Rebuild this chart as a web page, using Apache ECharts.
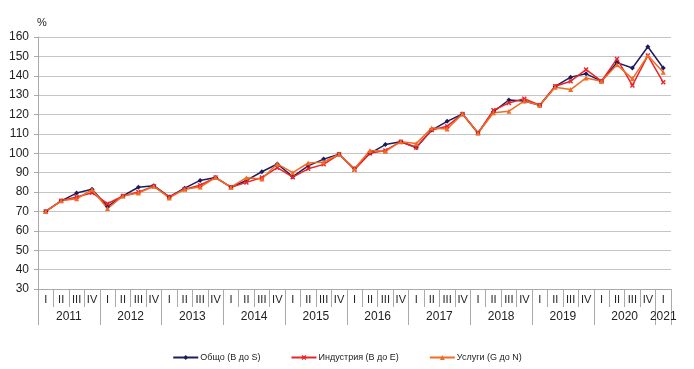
<!DOCTYPE html>
<html>
<head>
<meta charset="utf-8">
<script src="https://cdn.jsdelivr.net/npm/echarts@6/dist/echarts.min.js"></script>
<style>
html,body{margin:0;padding:0;background:#fff;}
#chart{width:694px;height:369px;}
</style>
</head>
<body>
<div id="chart"></div>
<script>
// ---- data ----
const quarterNames = ['I', 'II', 'III', 'IV'];
const years = ['2011','2012','2013','2014','2015','2016','2017','2018','2019','2020','2021'];
const quartersPerYear = [4,4,4,4,4,4,4,4,4,4,1];
const yTicks = {min: 30, max: 160, interval: 10};

const seriesNames = ['Общо (B до S)', 'Индустрия (B до E)', 'Услуги (G до N)'];

const total = [70, 75.5, 79.5, 81.5, 72.5, 78, 82.5, 83.3, 77.5, 82, 86, 87.5, 82.5, 86, 90.5, 94.5, 88, 93.5, 97, 99.5, 92, 100, 104.5, 106, 103, 112, 116.5, 120.3, 110.5, 121.5, 127.5, 127, 124.8, 134.5, 139.3, 141, 137.2, 146.8, 144, 155, 144];
const industry = [70, 75.5, 77.5, 79.7, 74, 78, 80, 83, 77.5, 81.5, 83.5, 87.5, 82.5, 85, 87.5, 92.6, 87.7, 92, 94.3, 99.5, 91.5, 100, 101.5, 106, 103, 112, 114, 120.3, 110.5, 122.2, 126, 128.2, 124.8, 134.6, 137.2, 143.2, 137.2, 148.7, 135, 150.4, 136.6];
const services = [70, 75.5, 76.5, 81.3, 71.5, 78, 79.5, 83, 77, 81.5, 82.6, 87.5, 82.5, 87.4, 86.8, 94.6, 90, 95, 95.5, 99.5, 92, 101.5, 101, 106, 105, 113, 112.6, 120.3, 110.5, 120.9, 121.7, 127, 124.8, 134.1, 132.9, 138.9, 137.2, 145.7, 138.4, 150.4, 141.8];

// ---- derived ----
const categories = [];
const yearStarts = [];
const yearCenters = [];
let pos = 0;
quartersPerYear.forEach((n) => {
  yearStarts.push(pos);
  yearCenters.push(pos + n / 2);
  for (let q = 0; q < n; q++) categories.push(quarterNames[q]);
  pos += n;
});
yearStarts.push(pos);
const nCat = categories.length;

const font = 'Liberation Sans, Arial, sans-serif';
const gridColor = '#c4c4c4';
const textColor = '#222';

const chart = echarts.init(document.getElementById('chart'), null, {renderer: 'canvas'});
chart.setOption({
  backgroundColor: '#fff',
  animation: false,
  textStyle: {fontFamily: font},
  grid: {left: 38, right: 23, top: 37, bottom: 80, containLabel: false},
  legend: {
    data: seriesNames,
    left: 'center',
    top: 348,
    itemWidth: 25,
    itemHeight: 6,
    itemGap: 30,
    textStyle: {fontSize: 9, color: textColor, fontFamily: font, padding: [0,0,0,-3]}
  },
  xAxis: [
    {
      type: 'category',
      data: categories,
      boundaryGap: true,
      position: 'bottom',
      axisLine: {show: true, lineStyle: {color: '#aaa', width: 1}},
      axisTick: {show: true, interval: 0, length: 18, lineStyle: {color: '#aaa'}},
      axisLabel: {interval: 0, margin: 5, fontSize: 11, color: textColor, fontFamily: font},
      splitLine: {show: false}
    },
    {
      type: 'value',
      min: 0,
      max: nCat,
      position: 'bottom',
      axisLine: {show: false},
      axisTick: {show: true, length: 36, customValues: yearStarts, lineStyle: {color: '#aaa'}},
      axisLabel: {
        show: true,
        customValues: yearCenters,
        margin: 22,
        fontSize: 12,
        color: textColor,
        fontFamily: font,
        formatter: function (v) {
          const idx = yearCenters.findIndex(c => Math.abs(c - v) < 1e-6);
          return idx >= 0 ? years[idx] : '';
        }
      },
      splitLine: {show: false}
    }
  ],
  yAxis: {
    type: 'value',
    min: yTicks.min,
    max: yTicks.max,
    interval: yTicks.interval,
    name: '%',
    nameLocation: 'end',
    nameGap: 9,
    nameTextStyle: {fontSize: 11, color: textColor, align: 'left', padding: [0,0,0,-1]},
    axisLine: {show: true, lineStyle: {color: '#aaa'}},
    axisTick: {show: true, length: 4, lineStyle: {color: '#aaa'}},
    axisLabel: {fontSize: 12, color: textColor, margin: 9, fontFamily: font},
    splitLine: {show: true, lineStyle: {color: gridColor, width: 1.2}}
  },
  series: [
    {
      name: seriesNames[0],
      type: 'line',
      data: total,
      xAxisIndex: 0,
      color: '#1d1d5e',
      symbol: 'diamond',
      symbolSize: 5,
      lineStyle: {width: 1.5},
      itemStyle: {color: '#1d1d5e'}
    },
    {
      name: seriesNames[1],
      type: 'line',
      data: industry,
      xAxisIndex: 0,
      color: '#ec2428',
      symbol: 'path://M2,0 L5,3 L8,0 L10,2 L7,5 L10,8 L8,10 L5,7 L2,10 L0,8 L3,5 L0,2 Z',
      symbolSize: 5,
      lineStyle: {width: 1.5},
      itemStyle: {color: '#ec2428'}
    },
    {
      name: seriesNames[2],
      type: 'line',
      data: services,
      xAxisIndex: 0,
      color: '#f26a24',
      symbol: 'triangle',
      symbolSize: 5,
      lineStyle: {width: 1.5},
      itemStyle: {color: '#f26a24'}
    }
  ]
});
</script>
</body>
</html>
